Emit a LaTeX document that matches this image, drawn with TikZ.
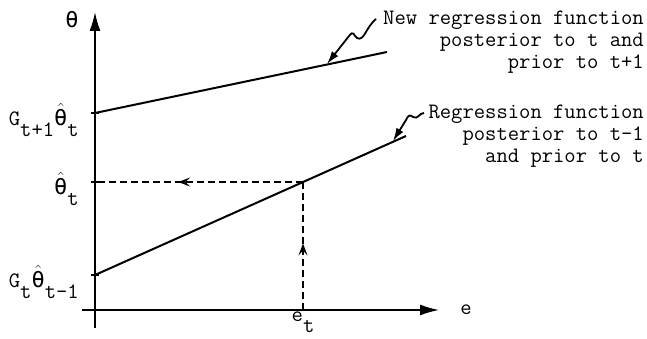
\RequirePackage{fix-cm}
\documentclass[tikz,border=0pt]{standalone}
\usepackage{fontspec}
\newfontfamily\thetafont{DejaVu Sans Mono}
\usetikzlibrary{arrows.meta, decorations.markings, positioning}
\newcommand{\lowsub}[1]{\raisebox{-0.5em}{#1}}
\newcommand{\thh}{$\hat{\hbox{\thetafont θ}}$}

\begin{document}
\begin{tikzpicture}[x=1pt, y=1pt,
   txt/.style={font=\fontsize{22}{22}\selectfont\ttfamily, inner sep=0pt},
   axis/.style={line width=1.6pt, -{Latex[length=19pt, width=11pt]}},
   regline/.style={line width=2pt},
   guide/.style={line width=1.5pt, dash pattern=on 7pt off 4pt},
   squiggle/.style={line width=1.8pt, -{Latex[length=13pt, width=8pt]}},
   midarrow/.style={postaction={decorate}, decoration={markings,
      mark=at position #1 with {\arrow{Stealth[length=12pt, width=9pt, inset=5pt]}}}}]
   \useasboundingbox (0,0) rectangle (647,-339);
   % Axes
   \coordinate (ybot) at (95,-328);
   \coordinate (xleft) at (82,-310);
   \coordinate (ytop) at (95,-12);
   \coordinate (xright) at (439,-310);
   \draw[axis] (ybot) -- (ytop);
   \draw[axis] (xleft) -- (xright);
   \node[txt] (theta) at (72,-20) {\thetafont θ};
   \node[txt] (e) at (466,-310) {e};
   % Regression functions
   \coordinate (upA) at (95,-113);
   \coordinate (upB) at (387,-52);
   \coordinate (loA) at (95,-275);
   \coordinate (loB) at (406,-136);
   \draw[regline] (upA) -- (upB);
   \draw[regline] (loA) -- (loB);
   % Ticks on the theta axis
   \foreach \yy in {113,182,275}
      \draw[line width=1.2pt] (91,-\yy) -- (99,-\yy);
   % Labels on the axes
   \node[txt, anchor=east] (Gnext) at (79,-120) {G\lowsub{t+1}\thh\lowsub{t}};
   \node[txt, anchor=east] (thetahat) at (79,-189) {\thh\lowsub{t}};
   \node[txt, anchor=east] (Gprev) at (79,-282) {G\lowsub{t}\thh\lowsub{t-1}};
   \coordinate (P) at (303,-182);
   \coordinate (Px) at (303,-310);
   \coordinate (Py) at (95,-182);
   \node[txt, anchor=north] (et) at (303,-312) {e\lowsub{t}};
   % Dashed read-off
   \draw[guide, midarrow=0.52] (Px) -- (P);
   \draw[guide, midarrow=0.6] (P) -- (Py);
   % Captions
   \node[txt, anchor=north east, align=right] (newcap) at (644,-11)
      {New regression function\\posterior to t and\\prior to t+1};
   \node[txt, anchor=north east, align=right] (oldcap) at (644,-105)
      {Regression function\\posterior to t-1\\and prior to t};
   \coordinate (newstart) at (376,-19);
   \coordinate (newtip) at (327,-64);
   \coordinate (oldstart) at (424,-113);
   \coordinate (oldtip) at (393,-141);
   \draw[squiggle] (newstart) .. controls (366,-27) and (364,-42) .. (357,-38)
      .. controls (353,-35) and (354,-30) .. (349,-36) -- (newtip);
   \draw[squiggle] (oldstart) .. controls (419,-113) and (418,-120) .. (413,-117)
      .. controls (410,-115) and (409,-114) .. (406,-120) -- (oldtip);
\end{tikzpicture}
\end{document}
